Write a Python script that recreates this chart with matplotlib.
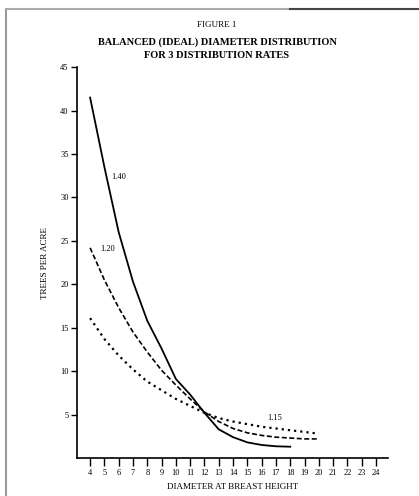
import numpy as np
import matplotlib.pyplot as plt
from matplotlib.lines import Line2D

plt.rcParams['font.family'] = ['Liberation Serif', 'DejaVu Serif']

# diameter classes (inches)
d_140 = [4, 5, 6, 7, 8, 9, 10, 11, 12, 13, 14, 15, 16, 17, 18]
q_140 = [41.5, 33.5, 26.0, 20.3, 15.8, 12.6, 9.1, 7.3, 5.2, 3.3, 2.4, 1.8, 1.5, 1.35, 1.3]

d_120 = [4, 5, 6, 7, 8, 9, 10, 11, 12, 13, 14, 15, 16, 17, 18, 19, 20]
q_120 = [24.2, 20.5, 17.3, 14.5, 12.2, 10.1, 8.4, 6.8, 5.3, 4.2, 3.4, 2.9, 2.6, 2.4, 2.3, 2.2, 2.2]

d_115 = [4, 5, 6, 7, 8, 9, 10, 11, 12, 13, 14, 15, 16, 17, 18, 19, 20]
q_115 = [16.1, 13.7, 11.8, 10.2, 8.8, 7.8, 6.8, 6.0, 5.2, 4.6, 4.2, 3.9, 3.6, 3.4, 3.2, 3.0, 2.8]

x_ticks = list(range(4, 25))
y_ticks = [5, 10, 15, 20, 25, 30, 35, 40, 45]

fig = plt.figure(figsize=(4.19, 4.96), dpi=100)
ax = fig.add_axes([0.184, 0.0766, 0.742, 0.788])

ax.plot(d_140, q_140, color='black', lw=1.3, ls='-')
ax.plot(d_120, q_120, color='black', lw=1.2, ls=(0, (3, 1.5)))
ax.plot(d_115, q_115, color='black', lw=1.6, ls=(0, (1, 1.8)))

ax.text(5.5, 32.4, '1.40', fontsize=6, va='center')
ax.text(4.7, 24.1, '1.20', fontsize=6, va='center')
ax.text(16.4, 4.6, '1.15', fontsize=6, va='center')

ax.set_xlim(3.09, 24.84)
ax.set_ylim(0, 45)
ax.set_xticks(x_ticks)
ax.set_yticks(y_ticks)
ax.tick_params(axis='x', direction='out', length=6, width=1, labelsize=6, pad=2)
ax.tick_params(axis='y', direction='out', length=4, width=1, labelsize=6, pad=2)
for s in ['top', 'right']:
    ax.spines[s].set_visible(False)
ax.spines['left'].set_linewidth(1.2)
ax.spines['bottom'].set_linewidth(1.2)

ax.set_xlabel('DIAMETER AT BREAST HEIGHT', fontsize=6.5, labelpad=4)
ax.set_ylabel('TREES PER ACRE', fontsize=6.5, labelpad=8)

fig.text(0.518, 0.950, 'FIGURE 1', fontsize=6.5, ha='center', va='center')
fig.text(0.518, 0.915, 'BALANCED (IDEAL) DIAMETER DISTRIBUTION', fontsize=7.5,
         fontweight='bold', ha='center', va='center')
fig.text(0.518, 0.888, 'FOR 3 DISTRIBUTION RATES', fontsize=7.5,
         fontweight='bold', ha='center', va='center')

# page frame
fig.add_artist(Line2D([6/419, 6/419], [0, 1 - 9/496], transform=fig.transFigure,
                      color='#999999', lw=1.5))
fig.add_artist(Line2D([6/419, 290/419], [1 - 9/496, 1 - 9/496], transform=fig.transFigure,
                      color='#aaaaaa', lw=1.5))
fig.add_artist(Line2D([290/419, 1], [1 - 9/496, 1 - 9/496], transform=fig.transFigure,
                      color='#444444', lw=1.5))

fig.savefig('out.png', dpi=100)
